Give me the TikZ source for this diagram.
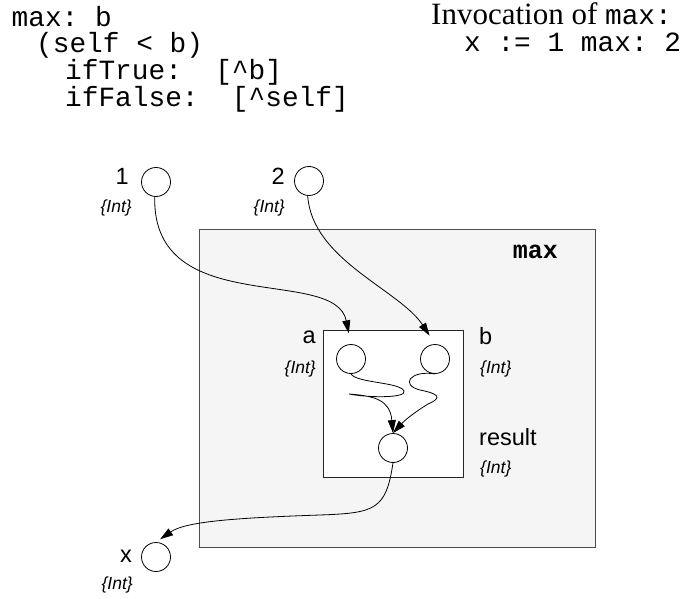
\documentclass[tikz,border=0pt]{standalone}
\usepackage{fontspec}
\setmainfont{Liberation Serif}
\setsansfont{Liberation Sans}
\setmonofont{Liberation Mono}
\usetikzlibrary{arrows.meta}
\begin{document}
\begin{tikzpicture}[x=1pt,y=-1pt,
  port/.style={circle,draw=black,fill=white,minimum size=29pt,inner sep=0pt,line width=0.8pt},
  lbl/.style={font=\sffamily\fontsize{23.5}{23.5}\selectfont,inner sep=0pt},
  typ/.style={font=\sffamily\itshape\fontsize{17.5}{17.5}\selectfont,inner sep=0pt},
  code/.style={font=\frenchspacing\ttfamily\fontsize{27.8}{27.8}\selectfont,inner sep=0pt,anchor=base west},
  wire/.style={line width=0.8pt,-{Triangle[length=13pt,width=8pt]}},
  ]
\useasboundingbox (0,0) rectangle (683,599);
% code
\node[code] (l1) at (11.5,27) {max: b};
\node[code] (l2) at (36,53) {(self < b)};
\node[code] (l3) at (65,80) {ifTrue:~~[\textasciicircum b]};
\node[code] (l4) at (65,107) {ifFalse:~~[\textasciicircum self]};
\node[inner sep=0pt,anchor=base west,font=\frenchspacing\fontsize{31}{31}\selectfont] (h1) at (431,25) {Invocation of {\ttfamily\fontsize{27.8}{27.8}\selectfont max:}};
\node[code] (h2) at (464,52) {x := 1 max: 2};
% boxes
\node[draw=black!70,fill=black!4,line width=1.2pt,minimum width=396pt,minimum height=318pt,anchor=north west,inner sep=0pt] (maxbox) at (199,229) {};
\node[font=\ttfamily\bfseries\fontsize{25}{25}\selectfont,inner sep=0pt,anchor=base east] (maxlbl) at (558,258) {max};
\node[draw=black!85,fill=white,line width=0.9pt,minimum width=140pt,minimum height=147pt,anchor=north west,inner sep=0pt] (inner) at (323,330) {};
% ports
\node[port] (c1) at (156,182) {};
\node[port] (c2) at (309,181) {};
\node[port] (ca) at (351,359) {};
\node[port] (cb) at (435,359) {};
\node[port] (cr) at (393,448) {};
\node[port] (cx) at (156,557) {};
% labels
\node[lbl,anchor=base east] (t1) at (129,185) {1};
\node[typ,anchor=base east] (y1) at (132,212) {\{Int\}};
\node[lbl,anchor=base east] (t2) at (285,185) {2};
\node[typ,anchor=base east] (y2) at (285,212) {\{Int\}};
\node[lbl,anchor=base east] (ta) at (316,343) {a};
\node[typ,anchor=base east] (ya) at (316,373) {\{Int\}};
\node[lbl,anchor=base west] (tb) at (479,344) {b};
\node[typ,anchor=base west] (yb) at (480,373) {\{Int\}};
\node[lbl,anchor=base west] (tr) at (479,445) {result};
\node[typ,anchor=base west] (yr) at (480,473) {\{Int\}};
\node[lbl,anchor=base east] (tx) at (132,562) {x};
\node[typ,anchor=base east] (yx) at (133,589) {\{Int\}};
% wires
\draw[wire,shorten >=11pt] (c1.265) .. controls (152,320) and (335,265) .. (ca.north);
\draw[wire,shorten >=10pt] (c2.265) .. controls (312,260) and (400,290) .. (cb.north);
\draw[wire] (ca.south) .. controls (356,383) and (400,382) .. (404,391) .. controls (407,398) and (370,398) .. (349,394) .. controls (375,396) and (390,400) .. (cr.north);
\draw[wire] (cb.south) .. controls (410,370) and (400,385) .. (420,390) .. controls (440,394) and (442,398) .. (428,404) .. controls (415,412) and (405,420) .. (cr.north);
\draw[wire,shorten >=5pt] (cr.south) .. controls (386,510) and (375,513) .. (320,515) .. controls (230,518) and (185,522) .. (cx.north);
\end{tikzpicture}
\end{document}
